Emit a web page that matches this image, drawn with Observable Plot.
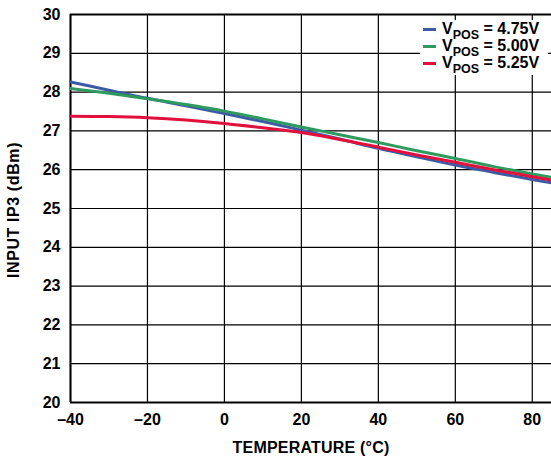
<!DOCTYPE html>
<html>
<head>
<meta charset="utf-8">
<script src="https://cdn.jsdelivr.net/npm/d3@7"></script>
<script src="https://cdn.jsdelivr.net/npm/@observablehq/plot@0.6"></script>
<style>
  html, body { margin: 0; padding: 0; background: #fff; }
  #chart svg { display: block; }
</style>
</head>
<body>
<div id="chart"></div>
<script>
const temps = [-40, -30, -20, -10, 0, 10, 20, 30, 40, 50, 60, 70, 80, 85];
const v475 = [28.26, 28.05, 27.84, 27.65, 27.45, 27.24, 27.02, 26.79, 26.55, 26.33, 26.12, 25.93, 25.75, 25.66];
const v500 = [28.09, 27.97, 27.83, 27.68, 27.51, 27.31, 27.10, 26.90, 26.70, 26.49, 26.29, 26.08, 25.89, 25.80];
const v525 = [27.38, 27.37, 27.34, 27.28, 27.19, 27.08, 26.96, 26.78, 26.58, 26.38, 26.19, 26.00, 25.82, 25.73];
const seriesNames = ["4.75V", "5.00V", "5.25V"];
const seriesColors = ["#3b5ca5", "#2e9a5e", "#e2103c"];
const xTicks = [-40, -20, 0, 20, 40, 60, 80];
const yTicks = [20, 21, 22, 23, 24, 25, 26, 27, 28, 29, 30];

const seriesValues = [v475, v500, v525];
const data = [];
seriesNames.forEach((s, i) => temps.forEach((t, j) => data.push({s, t, v: seriesValues[i][j]})));

const font = "'Liberation Sans', Arial, sans-serif";
const fmt = d => String(d).replace("-", "\u2013");

const plot = Plot.plot({
  width: 551,
  height: 457,
  marginLeft: 70,
  marginRight: 0,
  marginTop: 14,
  marginBottom: 55,
  style: {fontFamily: font, fontSize: "16px", fontWeight: "bold", color: "#000", background: "#fff"},
  x: {domain: [-40, 85]},
  y: {domain: [20, 30]},
  color: {domain: seriesNames, range: seriesColors},
  marks: [
    Plot.gridX(xTicks, {stroke: "#000", strokeOpacity: 1, strokeWidth: 1.2}),
    Plot.gridY(yTicks, {stroke: "#000", strokeOpacity: 1, strokeWidth: 1.2}),
    Plot.ruleY([20, 30], {stroke: "#000", strokeWidth: 2}),
    Plot.ruleX([-40], {stroke: "#000", strokeWidth: 2}),
    Plot.axisX(xTicks, {tickSize: 0, tickPadding: 11, tickFormat: fmt, fontWeight: "bold", fontSize: 16,
      label: null}),
    Plot.axisY(yTicks, {tickSize: 0, tickPadding: 10, fontWeight: "bold", fontSize: 16,
      label: null}),
    Plot.line(data, {x: "t", y: "v", z: "s", stroke: "s", strokeWidth: 3, curve: "monotone-x"})
  ]
});

document.getElementById("chart").appendChild(plot);

const svg = d3.select(plot);

// Axis titles
svg.append("text")
  .attr("x", 311).attr("y", 453)
  .attr("text-anchor", "middle")
  .attr("font-family", font).attr("font-weight", "bold").attr("font-size", 16)
  .attr("letter-spacing", 0.2)
  .attr("fill", "#000")
  .text("TEMPERATURE (°C)");
svg.append("text")
  .attr("transform", "translate(19,210) rotate(-90)")
  .attr("text-anchor", "middle")
  .attr("font-family", font).attr("font-weight", "bold").attr("font-size", 16)
  .attr("letter-spacing", 0.6)
  .attr("fill", "#000")
  .text("INPUT IP3 (dBm)");

// Legend with subscripts
const color = plot.scale("color");
const lg = svg.append("g").attr("font-family", font).attr("font-weight", "bold").attr("font-size", 16)
  .attr("text-anchor", "start");
lg.append("rect").attr("x", 420).attr("y", 20).attr("width", 128).attr("height", 55).attr("fill", "#fff");
seriesNames.forEach((s, i) => {
  const y = 29.5 + i * 17;
  lg.append("line").attr("x1", 423).attr("x2", 436).attr("y1", y).attr("y2", y)
    .attr("stroke", color.apply(s)).attr("stroke-width", 3);
  const t = lg.append("text").attr("x", 442).attr("y", y + 4.5).attr("fill", "#000");
  t.append("tspan").text("V");
  t.append("tspan").attr("font-size", 12.5).attr("dy", 5).text("POS");
  t.append("tspan").attr("dy", -5).text(" = " + s);
});
</script>
</body>
</html>
